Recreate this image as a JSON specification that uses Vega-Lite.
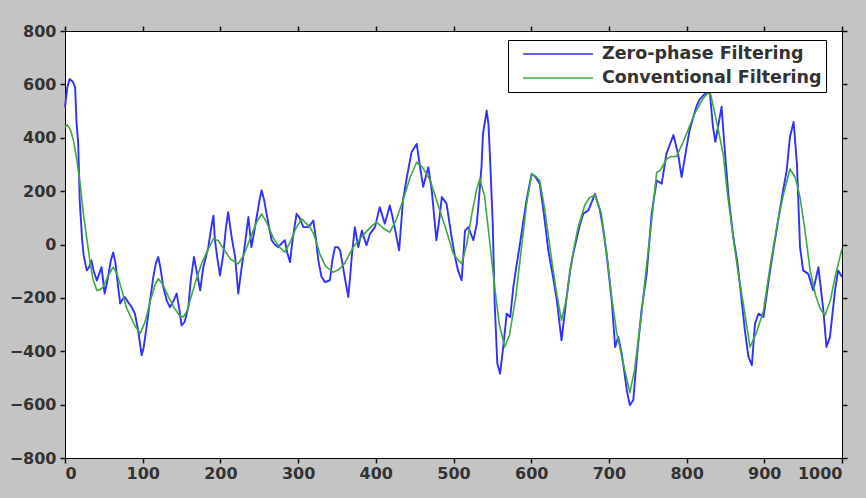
{
  "$schema": "https://vega.github.io/schema/vega-lite/v6.json",
  "width": 777,
  "height": 427,
  "autosize": {"type": "none"},
  "padding": {"left": 65, "top": 31, "right": 24, "bottom": 40},
  "background": "#c4c4c4",
  "config": {
    "view": {"stroke": "#000", "fill": "#fff", "strokeWidth": 1},
    "axis": {"domain": true, "domainColor": "#000", "domainWidth": 1, "grid": false, "ticks": true, "tickColor": "#111", "tickSize": 5, "tickWidth": 1.5, "labelFont": "DejaVu Sans", "labelFontWeight": "bold", "labelFontSize": 16, "labelColor": "#333", "title": null}
  },
  "datasets": {
    "zp": [
      {"x":0,"y":515},{"x":3,"y":590},{"x":6,"y":620},{"x":10,"y":610},{"x":13,"y":590},{"x":15,"y":450},{"x":17,"y":380},{"x":19,"y":160},{"x":22,"y":20},{"x":24,"y":-40},{"x":28,"y":-97},{"x":31,"y":-85},{"x":34,"y":-60},{"x":37,"y":-100},{"x":41,"y":-135},{"x":44,"y":-110},{"x":47,"y":-85},{"x":51,"y":-184},{"x":55,"y":-130},{"x":59,"y":-60},{"x":62,"y":-30},{"x":65,"y":-70},{"x":68,"y":-150},{"x":71,"y":-221},{"x":74,"y":-205},{"x":77,"y":-197},{"x":81,"y":-215},{"x":86,"y":-235},{"x":90,"y":-259},{"x":94,"y":-320},{"x":98.7,"y":-415},{"x":101,"y":-390},{"x":105,"y":-309},{"x":109,"y":-220},{"x":113.6,"y":-122},{"x":117,"y":-70},{"x":120,"y":-47},{"x":123,"y":-90},{"x":126.5,"y":-160},{"x":131,"y":-210},{"x":135,"y":-235},{"x":139,"y":-215},{"x":143.7,"y":-184},{"x":147,"y":-240},{"x":150,"y":-303},{"x":154,"y":-290},{"x":158.7,"y":-235},{"x":162,"y":-130},{"x":166,"y":-47},{"x":170,"y":-110},{"x":174,"y":-172},{"x":178,"y":-85},{"x":184.5,"y":-10},{"x":188,"y":60},{"x":191,"y":108},{"x":193,"y":16},{"x":196,"y":-50},{"x":199.5,"y":-116},{"x":203.8,"y":-35},{"x":207,"y":60},{"x":210,"y":121},{"x":214.5,"y":27},{"x":219,"y":-47},{"x":223,"y":-184},{"x":227.4,"y":-85},{"x":231.7,"y":3},{"x":236,"y":103},{"x":240,"y":-10},{"x":243,"y":40},{"x":246.7,"y":103},{"x":250,"y":160},{"x":253,"y":203},{"x":256,"y":170},{"x":259.5,"y":115},{"x":263,"y":60},{"x":266,"y":16},{"x":270,"y":0},{"x":274.5,"y":-10},{"x":279,"y":5},{"x":283,"y":16},{"x":286,"y":-30},{"x":289.6,"y":-66},{"x":293,"y":20},{"x":298,"y":115},{"x":302,"y":100},{"x":306.7,"y":65},{"x":313,"y":65},{"x":316,"y":75},{"x":319.6,"y":90},{"x":323,"y":20},{"x":326,"y":-59},{"x":330,"y":-120},{"x":334.6,"y":-141},{"x":341,"y":-134},{"x":344,"y":-60},{"x":347.5,"y":-10},{"x":351,"y":-10},{"x":354,"y":-22},{"x":357,"y":-70},{"x":360,"y":-122},{"x":364.6,"y":-197},{"x":367,"y":-120},{"x":369,"y":-47},{"x":373,"y":65},{"x":377.5,"y":-10},{"x":382,"y":52},{"x":388,"y":-3},{"x":392.5,"y":40},{"x":399,"y":65},{"x":405,"y":140},{"x":411.6,"y":78},{"x":418,"y":146},{"x":421,"y":110},{"x":424.7,"y":58},{"x":430,"y":-22},{"x":435,"y":166},{"x":440,"y":252},{"x":446,"y":346},{"x":452.6,"y":377},{"x":457,"y":290},{"x":461,"y":216},{"x":464,"y":250},{"x":467.6,"y":290},{"x":472,"y":203},{"x":478,"y":16},{"x":482,"y":100},{"x":485,"y":178},{"x":491,"y":153},{"x":497.6,"y":28},{"x":502,"y":-47},{"x":506,"y":-100},{"x":510.5,"y":-134},{"x":514.8,"y":52},{"x":519,"y":65},{"x":525.5,"y":16},{"x":530,"y":78},{"x":533,"y":180},{"x":536,"y":290},{"x":538,"y":415},{"x":542.7,"y":502},{"x":545,"y":450},{"x":547,"y":327},{"x":550.5,"y":78},{"x":553,"y":-222},{"x":556.4,"y":-446},{"x":560,"y":-484},{"x":564,"y":-384},{"x":568.5,"y":-259},{"x":573,"y":-272},{"x":577,"y":-160},{"x":581,"y":-80},{"x":585.6,"y":3},{"x":590,"y":90},{"x":594,"y":166},{"x":600.6,"y":265},{"x":605,"y":255},{"x":611,"y":228},{"x":617,"y":100},{"x":622,"y":-22},{"x":628,"y":-120},{"x":633,"y":-209},{"x":639,"y":-359},{"x":645.6,"y":-197},{"x":650,"y":-100},{"x":654,"y":-35},{"x":663,"y":78},{"x":667,"y":115},{"x":673.5,"y":128},{"x":678,"y":160},{"x":682,"y":190},{"x":688.5,"y":128},{"x":693,"y":50},{"x":697,"y":-35},{"x":703.6,"y":-209},{"x":708,"y":-384},{"x":712,"y":-346},{"x":716.5,"y":-409},{"x":720,"y":-480},{"x":723,"y":-546},{"x":727,"y":-602},{"x":731.4,"y":-583},{"x":736,"y":-421},{"x":742,"y":-247},{"x":748.6,"y":-110},{"x":755,"y":115},{"x":761.5,"y":240},{"x":768,"y":228},{"x":774,"y":340},{"x":783,"y":410},{"x":789,"y":340},{"x":793.6,"y":253},{"x":800,"y":365},{"x":804,"y":430},{"x":808.6,"y":477},{"x":813,"y":520},{"x":817,"y":545},{"x":822,"y":560},{"x":826,"y":570},{"x":830,"y":565},{"x":834,"y":440},{"x":837,"y":385},{"x":841,"y":450},{"x":845,"y":516},{"x":849.5,"y":340},{"x":854,"y":179},{"x":860,"y":29},{"x":865,"y":-60},{"x":869,"y":-160},{"x":875,"y":-322},{"x":879.6,"y":-421},{"x":884,"y":-452},{"x":888,"y":-297},{"x":892.6,"y":-259},{"x":899,"y":-272},{"x":905,"y":-147},{"x":911.5,"y":-22},{"x":920,"y":128},{"x":924,"y":200},{"x":928.8,"y":277},{"x":933,"y":403},{"x":937.7,"y":459},{"x":942,"y":302},{"x":946,"y":-10},{"x":950,"y":-97},{"x":956.6,"y":-110},{"x":963,"y":-172},{"x":969.6,"y":-85},{"x":976,"y":-247},{"x":980,"y":-384},{"x":984.5,"y":-346},{"x":991,"y":-172},{"x":995,"y":-97},{"x":1000,"y":-122}
    ],
    "cf": [
      {"x":0,"y":440},{"x":3,"y":448},{"x":7,"y":430},{"x":11,"y":389},{"x":15,"y":320},{"x":19,"y":240},{"x":23,"y":130},{"x":26,"y":65},{"x":32,"y":-60},{"x":36,"y":-130},{"x":41,"y":-172},{"x":45,"y":-170},{"x":49,"y":-160},{"x":55,"y":-120},{"x":62,"y":-85},{"x":67,"y":-110},{"x":73,"y":-170},{"x":79,"y":-235},{"x":85,"y":-275},{"x":91,"y":-310},{"x":97,"y":-333},{"x":103,"y":-290},{"x":110,"y":-210},{"x":116,"y":-150},{"x":120,"y":-128},{"x":126,"y":-150},{"x":133,"y":-195},{"x":140,"y":-235},{"x":147,"y":-265},{"x":152,"y":-272},{"x":157,"y":-250},{"x":161,"y":-209},{"x":168,"y":-140},{"x":176,"y":-70},{"x":184,"y":-20},{"x":191,"y":21},{"x":197,"y":15},{"x":205,"y":-20},{"x":213,"y":-55},{"x":223,"y":-72},{"x":230,"y":-40},{"x":238,"y":20},{"x":246,"y":80},{"x":253,"y":115},{"x":260,"y":80},{"x":268,"y":25},{"x":276,"y":-10},{"x":283,"y":-29},{"x":290,"y":10},{"x":297,"y":60},{"x":304.6,"y":96},{"x":310,"y":80},{"x":315,"y":65},{"x":320,"y":40},{"x":328,"y":-35},{"x":335,"y":-80},{"x":345,"y":-104},{"x":352,"y":-95},{"x":360,"y":-70},{"x":371,"y":-10},{"x":385,"y":40},{"x":395,"y":70},{"x":401,"y":84},{"x":410,"y":60},{"x":418,"y":46},{"x":426,"y":90},{"x":435,"y":166},{"x":444,"y":250},{"x":452.6,"y":308},{"x":460,"y":290},{"x":470,"y":240},{"x":480,"y":150},{"x":490,"y":60},{"x":499.7,"y":-35},{"x":505,"y":-55},{"x":510.5,"y":-72},{"x":517,"y":0},{"x":524,"y":120},{"x":530,"y":210},{"x":534,"y":246},{"x":540,"y":180},{"x":547,"y":0},{"x":553,"y":-160},{"x":559,"y":-300},{"x":566,"y":-384},{"x":572,"y":-340},{"x":580,"y":-200},{"x":588,"y":0},{"x":594,"y":150},{"x":600.6,"y":265},{"x":606,"y":255},{"x":611,"y":240},{"x":618,"y":120},{"x":625,"y":-30},{"x":632,"y":-170},{"x":639,"y":-284},{"x":645,"y":-210},{"x":652,"y":-60},{"x":660,"y":60},{"x":669,"y":148},{"x":675,"y":175},{"x":682,"y":185},{"x":690,"y":120},{"x":697,"y":-30},{"x":703.6,"y":-197},{"x":710,"y":-330},{"x":718,"y":-440},{"x":727,"y":-555},{"x":733,"y":-470},{"x":742,"y":-259},{"x":748,"y":-90},{"x":755,"y":90},{"x":761.5,"y":270},{"x":766,"y":278},{"x":774,"y":320},{"x":780,"y":330},{"x":787,"y":330},{"x":795,"y":380},{"x":804,"y":445},{"x":812,"y":500},{"x":821,"y":546},{"x":830,"y":575},{"x":838,"y":470},{"x":847,"y":340},{"x":853,"y":180},{"x":860,"y":27},{"x":866,"y":-100},{"x":873,"y":-222},{"x":881.6,"y":-384},{"x":890,"y":-330},{"x":899,"y":-247},{"x":907,"y":-90},{"x":916,"y":65},{"x":924,"y":180},{"x":933,"y":283},{"x":940,"y":250},{"x":946,"y":177},{"x":952,"y":60},{"x":959,"y":-97},{"x":966,"y":-190},{"x":972,"y":-240},{"x":978,"y":-266},{"x":985,"y":-210},{"x":991,"y":-122},{"x":1000,"y":-16}
    ]
  },
  "layer": [
    {
      "data": {"name": "zp"},
      "transform": [{"calculate": "'Zero-phase Filtering'", "as": "s"}],
      "mark": {"type": "line", "strokeWidth": 1.9, "strokeJoin": "round"},
      "encoding": {
        "x": {"field": "x", "type": "quantitative", "scale": {"domain": [0, 1000], "nice": false}, "axis": {"orient": "bottom", "values": [0,100,200,300,400,500,600,700,800,900,1000], "format": "d", "labelPadding": 2}},
        "y": {"field": "y", "type": "quantitative", "scale": {"domain": [-800, 800], "nice": false}, "axis": {"orient": "left", "values": [-800,-600,-400,-200,0,200,400,600,800], "format": "d", "labelPadding": 4}},
        "color": {"field": "s", "type": "nominal", "scale": {"domain": ["Zero-phase Filtering", "Conventional Filtering"], "range": ["#3030ff", "#3daa3d"]},
          "legend": {"orient": "none", "legendX": 443, "legendY": 9, "title": null, "symbolType": "stroke", "symbolSize": 4900, "symbolStrokeWidth": 1.5, "clipHeight": 20, "symbolOffset": 10, "labelOffset": 8, "rowPadding": 4, "padding": 4, "strokeColor": "#000", "fillColor": "#fff", "labelFont": "DejaVu Sans", "labelFontSize": 17.5, "labelFontWeight": "bold", "labelColor": "#333", "labelLimit": 400, "labelExpr": "datum.label + '    '"}}
      }
    },
    {
      "data": {"name": "cf"},
      "transform": [{"calculate": "'Conventional Filtering'", "as": "s"}],
      "mark": {"type": "line", "strokeWidth": 1.6, "strokeJoin": "round"},
      "encoding": {
        "x": {"field": "x", "type": "quantitative", "axis": {"orient": "top", "values": [0,100,200,300,400,500,600,700,800,900,1000], "labels": false}},
        "y": {"field": "y", "type": "quantitative", "axis": {"orient": "right", "values": [-800,-600,-400,-200,0,200,400,600,800], "labels": false}},
        "color": {"field": "s", "type": "nominal"}
      }
    }
  ]
}
